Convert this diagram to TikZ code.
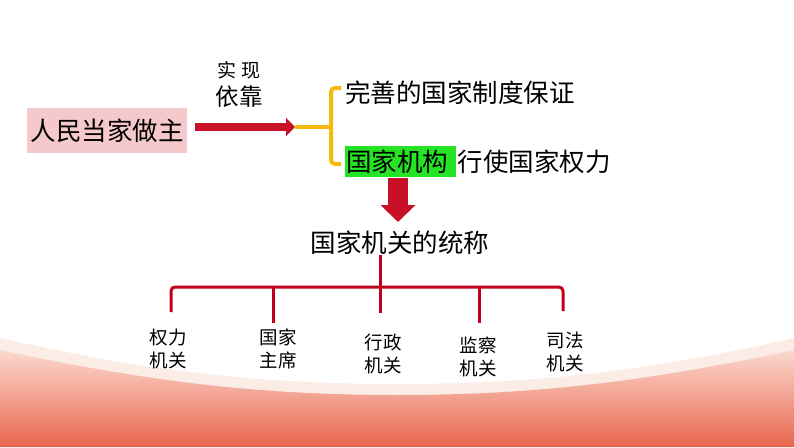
\documentclass[tikz,border=0pt]{standalone}
\usepackage{fontspec}
\setmainfont{Noto Sans CJK SC}
\usetikzlibrary{arrows.meta,calc}
\definecolor{pinkbox}{RGB}{245,200,203}
\definecolor{darkred}{RGB}{200,16,38}
\definecolor{treered}{RGB}{192,0,26}
\definecolor{goldline}{RGB}{247,186,12}
\definecolor{hlgreen}{RGB}{36,228,36}
\definecolor{paleband}{RGB}{251,236,230}
\definecolor{wavetop}{RGB}{251,218,207}
\definecolor{wavemid}{RGB}{241,140,118}
\definecolor{wavebot}{RGB}{232,100,76}
\tikzset{
  big/.style={font=\fontsize{25.5}{30}\selectfont, inner sep=0pt},
  leaf/.style={font=\fontsize{18.5}{23}\selectfont, align=center, inner sep=0pt},
  goldconn/.style={draw=goldline, line width=4pt, rounded corners=4pt},
  treeconn/.style={draw=treered, line width=3pt, rounded corners=4pt},
}
\begin{document}
\begin{tikzpicture}[x=1pt,y=-1pt]
\useasboundingbox (0,0) rectangle (794,447);
\fill[white] (0,0) rectangle (794,447);
% bottom wave
\fill[paleband] (0,338) .. controls (150,372) and (260,384) .. (397,384)
  .. controls (534,384) and (644,372) .. (794,338) -- (794,447) -- (0,447) -- cycle;
\shade[top color=wavetop, middle color=wavemid, bottom color=wavebot]
  (0,350) .. controls (150,382) and (260,395) .. (397,395)
  .. controls (534,395) and (644,382) .. (794,350) -- (794,447) -- (0,447) -- cycle;

% main box
\node[fill=pinkbox, minimum width=160pt, minimum height=45pt, big] (people) at (107,130.5) {人民当家做主};
\node[font=\fontsize{19}{22}\selectfont, inner sep=0pt] (shixian) at (238.5,70) {实\hspace{5pt}现};
\node[font=\fontsize{23.5}{28}\selectfont, inner sep=0pt] (yikao) at (239,97) {依靠};

\coordinate (j) at (295,127);
\coordinate (s) at ($(people.east |- j)+(8,0)$);
\draw[darkred, line width=8pt, -{Triangle[length=9pt,width=18pt]}] (s) -- (j);

% right texts
\node[big, anchor=west] (t1) at (345,93) {完善的国家制度保证};
\node[big, anchor=west, fill=hlgreen, minimum height=31pt, minimum width=111pt, text width=111pt, align=left] (t2) at (345,161.5) {\kern1pt 国家机构};
\node[big, anchor=west] (t3) at ($(t2.east)+(1,0)$) {行使国家权力};

% bracket
\coordinate (bt) at (331,127);
\draw[goldconn] (j) -- (bt);
\draw[goldconn] ($(t1.west)+(-4,-5)$) -- (331,88) -- (331,164) -- ($(t2.west)+(-4,2.5)$);

% down arrow
\node[big] (org) at (400,243) {国家机关的统称};
\coordinate (d1) at (398,178);
\coordinate (d2) at (398,222);
\draw[darkred, line width=20pt, -{Triangle[length=17pt,width=34pt]}] (d1) -- (d2);

% tree
\node[leaf] (l1) at (168,348.5) {权力\\机关};
\node[leaf] (l2) at (278,348.5) {国家\\主席};
\node[leaf] (l3) at (383,353.5) {行政\\机关};
\node[leaf] (l4) at (478,356.5) {监察\\机关};
\node[leaf] (l5) at (565,351.5) {司法\\机关};

\coordinate (top) at (380,255);
\coordinate (mid) at (380,287);
\draw[treeconn] (top) -- (380,313);
\draw[treeconn] (171,312) -- (171,287) -- (563,287) -- (563,311);
\draw[treeconn] (273,287) -- (273,323);
\draw[treeconn] (479,287) -- (479,323);
\end{tikzpicture}
\end{document}
